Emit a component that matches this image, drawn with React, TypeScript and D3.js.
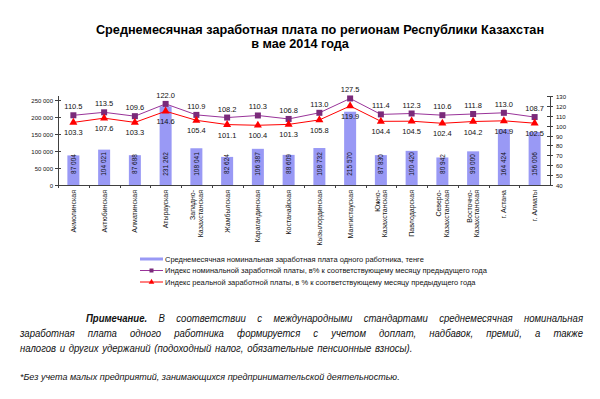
import React, { useRef, useEffect } from "react";
import * as d3 from "d3";

const regions = [
  "Акмолинская",
  "Актюбинская",
  "Алматинская",
  "Атырауская",
  "Западно-|Казахстанская",
  "Жамбылская",
  "Карагандинская",
  "Костанайская",
  "Кызылординская",
  "Мангистауская",
  "Южно-|Казахстанская",
  "Павлодарская",
  "Северо-|Казахстанская",
  "Восточно-|Казахстанская",
  "г. Астана",
  "г. Алматы",
];

// среднемесячная номинальная заработная плата, тенге
const salary = [
  87004, 104021, 87688, 231262, 108041, 82624, 106387, 88609, 108732, 215570,
  87830, 100420, 80942, 99000, 164424, 156006,
];

// индекс номинальной заработной платы, %
const nominalIndex = [
  110.5, 113.5, 109.6, 122.0, 110.9, 108.2, 110.3, 106.8, 113.0, 127.5, 111.4,
  112.3, 110.6, 111.8, 113.0, 108.7,
];

// индекс реальной заработной платы, %
const realIndex = [
  103.3, 107.6, 103.3, 114.6, 105.4, 101.1, 100.4, 101.3, 105.8, 119.9, 104.4,
  104.5, 102.4, 104.2, 104.9, 102.5,
];

const leftTicks = [0, 50000, 100000, 150000, 200000, 250000];
const rightTicks = [40, 50, 60, 70, 80, 90, 100, 110, 120, 130];

const legendLabels = [
  "Среднемесячная номинальная заработная плата одного работника, тенге",
  "Индекс номинальной заработной платы, в% к соответствующему месяцу предыдущего года",
  "Индекс реальной заработной платы, в % к соответствующему месяцу предыдущего года",
];

const fmt = (v: number) => d3.format(",")(v).replace(/,/g, " ");

const App = () => {
  const svgRef = useRef<SVGSVGElement>(null);

  useEffect(() => {
    const width = 600;
    const height = 399;
    const font = "'Liberation Sans', Arial, sans-serif";
    const colors = {
      bar: "#9999f5",
      nominal: "#993399",
      nominalMarker: "#7a2a7a",
      real: "#ff0000",
      axis: "#404040",
      text: "#111",
    };

    const svg = d3.select(svgRef.current).attr("width", width).attr("height", height);
    svg.selectAll("*").remove();
    svg.append("rect").attr("width", width).attr("height", height).attr("fill", "#fff");

    // title
    svg
      .append("text")
      .attr("x", 320)
      .attr("y", 34)
      .attr("text-anchor", "middle")
      .style("font", `bold 12.7px ${font}`)
      .text("Среднемесячная заработная плата по регионам Республики Казахстан");
    svg
      .append("text")
      .attr("x", 300)
      .attr("y", 48)
      .attr("text-anchor", "middle")
      .style("font", `bold 12.7px ${font}`)
      .text("в мае 2014 года");

    const x = d3
      .scaleBand()
      .domain(regions.map((d, i) => String(i)))
      .range([58, 550]);
    const yLeft = d3.scaleLinear().domain([0, 250000]).range([185, 100]);
    const yRight = d3.scaleLinear().domain([40, 130]).range([185, 96]);
    const cx = (i: number) => (x(String(i)) as number) + x.bandwidth() / 2;

    const g = svg.append("g");

    // bars
    g.selectAll("rect.bar")
      .data(salary)
      .join("rect")
      .attr("class", "bar")
      .attr("x", (d, i) => cx(i) - 6)
      .attr("width", 12)
      .attr("y", (d) => yLeft(d))
      .attr("height", (d) => yLeft(0) - yLeft(d))
      .attr("fill", colors.bar);

    g.selectAll("text.barlabel")
      .data(salary)
      .join("text")
      .attr("class", "barlabel")
      .attr("transform", (d, i) => `translate(${cx(i) + 2.2},164) rotate(-90)`)
      .attr("text-anchor", "middle")
      .style("font", `6.5px ${font}`)
      .attr("fill", colors.text)
      .text((d) => fmt(d));

    // axes
    g.append("line")
      .attr("x1", 58).attr("x2", 550).attr("y1", 185.5).attr("y2", 185.5)
      .attr("stroke", colors.axis);
    g.append("line")
      .attr("x1", 58.5).attr("x2", 58.5).attr("y1", 96).attr("y2", 185.5)
      .attr("stroke", colors.axis);
    g.append("line")
      .attr("x1", 550.5).attr("x2", 550.5).attr("y1", 96).attr("y2", 185.5)
      .attr("stroke", colors.axis);

    regions.forEach((r, i) => {
      const bx = Math.round(x(String(i)) as number) + 0.5;
      g.append("line")
        .attr("x1", bx).attr("x2", bx).attr("y1", 185).attr("y2", 188)
        .attr("stroke", colors.axis);
    });

    leftTicks.forEach((t) => {
      const ty = Math.round(yLeft(t)) + 0.5;
      g.append("line").attr("x1", 55).attr("x2", 61).attr("y1", ty).attr("y2", ty).attr("stroke", colors.axis);
      g.append("text")
        .attr("x", 53)
        .attr("y", ty + 2)
        .attr("text-anchor", "end")
        .style("font", `6px ${font}`)
        .attr("fill", colors.text)
        .text(fmt(t));
    });

    rightTicks.forEach((t) => {
      const ty = Math.round(yRight(t)) + 0.5;
      g.append("line").attr("x1", 547).attr("x2", 553).attr("y1", ty).attr("y2", ty).attr("stroke", colors.axis);
      g.append("text")
        .attr("x", 556)
        .attr("y", ty + 2)
        .style("font", `6px ${font}`)
        .attr("fill", colors.text)
        .text(t);
    });

    // category labels
    regions.forEach((r, i) => {
      const lines = r.split("|");
      lines.forEach((ln, k) => {
        const off = (k - (lines.length - 1) / 2) * 7.5 + 2.5;
        g.append("text")
          .attr("transform", `translate(${cx(i) + off},190) rotate(-90)`)
          .attr("text-anchor", "end")
          .style("font", `7px ${font}`)
          .attr("fill", colors.text)
          .text(ln);
      });
    });

    // lines
    const lineGen = (data: number[]) =>
      d3
        .line<number>()
        .x((d, i) => cx(i))
        .y((d) => yRight(d))(data);

    g.append("path").attr("d", lineGen(nominalIndex)).attr("fill", "none").attr("stroke", colors.nominal).attr("stroke-width", 1);
    g.append("path").attr("d", lineGen(realIndex)).attr("fill", "none").attr("stroke", colors.real).attr("stroke-width", 1);

    const tri = d3.symbol().type(d3.symbolTriangle).size(28);

    g.selectAll("rect.nom")
      .data(nominalIndex)
      .join("rect")
      .attr("class", "nom")
      .attr("x", (d, i) => cx(i) - 3)
      .attr("y", (d) => yRight(d) - 3)
      .attr("width", 6)
      .attr("height", 6)
      .attr("fill", colors.nominalMarker);

    g.selectAll("path.real")
      .data(realIndex)
      .join("path")
      .attr("class", "real")
      .attr("d", tri)
      .attr("transform", (d, i) => `translate(${cx(i)},${yRight(d)})`)
      .attr("fill", colors.real);

    g.selectAll("text.nomlabel")
      .data(nominalIndex)
      .join("text")
      .attr("class", "nomlabel")
      .attr("x", (d, i) => cx(i))
      .attr("y", (d) => yRight(d) - 6)
      .attr("text-anchor", "middle")
      .style("font", `7.5px ${font}`)
      .attr("fill", colors.text)
      .text((d) => d.toFixed(1));

    g.selectAll("text.reallabel")
      .data(realIndex)
      .join("text")
      .attr("class", "reallabel")
      .attr("x", (d, i) => cx(i))
      .attr("y", (d) => yRight(d) + 13)
      .attr("text-anchor", "middle")
      .style("font", `7.5px ${font}`)
      .attr("fill", colors.text)
      .text((d) => d.toFixed(1));

    // legend
    const legend = svg.append("g");
    legendLabels.forEach((lbl, i) => {
      const ly = 259 + i * 11.5;
      if (i === 0) {
        legend.append("line").attr("x1", 140).attr("x2", 163).attr("y1", ly).attr("y2", ly)
          .attr("stroke", colors.bar).attr("stroke-width", 3);
      } else {
        const c = i === 1 ? colors.nominal : colors.real;
        legend.append("line").attr("x1", 140).attr("x2", 163).attr("y1", ly).attr("y2", ly)
          .attr("stroke", c).attr("stroke-width", 1);
        if (i === 1) {
          legend.append("rect").attr("x", 149.5).attr("y", ly - 2).attr("width", 4).attr("height", 4).attr("fill", colors.nominalMarker);
        } else {
          legend.append("path").attr("d", d3.symbol().type(d3.symbolTriangle).size(14)()).attr("transform", `translate(151.5,${ly})`).attr("fill", colors.real);
        }
      }
      legend.append("text")
        .attr("x", 165)
        .attr("y", ly + 2.5)
        .style("font", `7.5px ${font}`)
        .attr("fill", colors.text)
        .text(lbl);
    });

    // note, justified word by word, glyphs slightly condensed like the source
    const sx = 0.87;
    const note = svg.append("g").attr("transform", `scale(${sx},1)`);
    const noteFont = `italic 11px ${font}`;
    const justify = (words: { t: string; bold?: boolean }[], x0: number, x1: number, y: number, just: boolean) => {
      const nodes = words.map((w) =>
        note.append("text")
          .attr("y", y)
          .style("font", w.bold ? `italic bold 11px ${font}` : noteFont)
          .attr("fill", colors.text)
          .text(w.t)
      );
      const widths = nodes.map((n) => (n.node() as SVGTextElement).getComputedTextLength());
      const total = d3.sum(widths);
      const a = x0 / sx;
      const b = x1 / sx;
      const gap = just ? (b - a - total) / (words.length - 1) : 4.2;
      let cur = a;
      nodes.forEach((n, k) => {
        n.attr("x", cur);
        cur += widths[k] + gap;
      });
    };
    const toWords = (s: string) => s.split(" ").map((t) => ({ t }));

    justify(
      [{ t: "Примечание.", bold: true }, ...toWords("В соответствии с международными стандартами среднемесячная номинальная")],
      86, 583, 322, true
    );
    justify(toWords("заработная плата одного работника формируется с учетом доплат, надбавок, премий, а также"), 20, 583, 337, true);
    justify(toWords("налогов и других удержаний (подоходный налог, обязательные пенсионные взносы)."), 20, 583, 352, false);

    svg.append("text")
      .attr("x", 20)
      .attr("y", 380)
      .style("font", `italic 9px ${font}`)
      .attr("fill", colors.text)
      .text("*Без учета малых предприятий, занимающихся предпринимательской деятельностью.");
  }, []);

  return <svg ref={svgRef} style={{ position: "absolute", left: 0, top: 0 }}></svg>;
};

export default App;
